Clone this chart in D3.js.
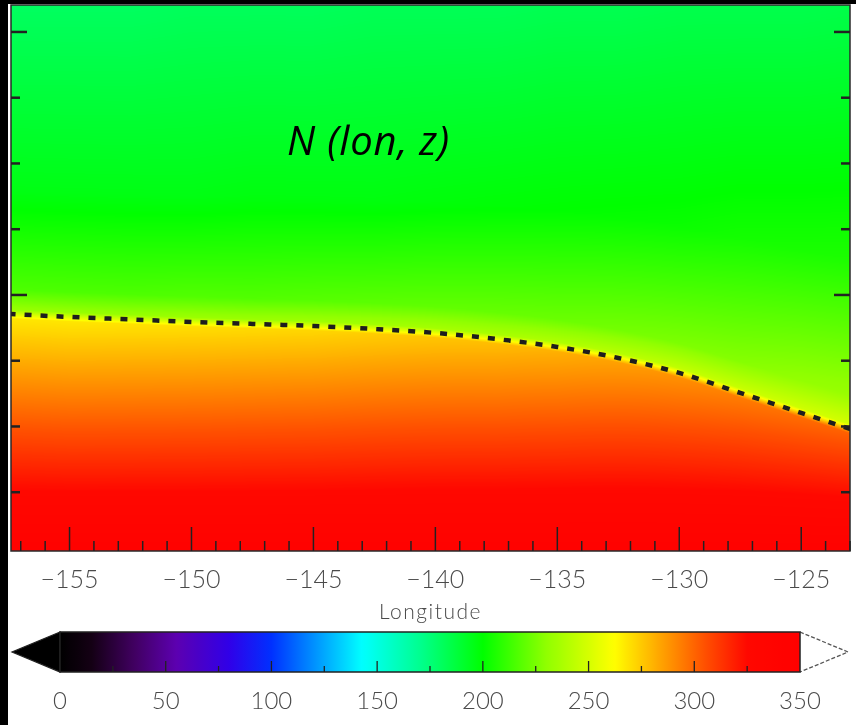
<!DOCTYPE html>
<html>
<head>
<meta charset="utf-8">
<script src="https://cdn.jsdelivr.net/npm/d3@7"></script>
<style>
  html, body { margin: 0; padding: 0; background: #fff; }
  #wrap { position: relative; width: 856px; height: 725px; overflow: hidden; }
  #wrap canvas, #wrap svg { position: absolute; left: 0; top: 0; }
</style>
</head>
<body>
<div id="wrap">
  <canvas id="field" width="856" height="725"></canvas>
  <svg id="chart" width="856" height="725"></svg>
</div>
<script>
// Longitudes (deg) at which the vertical N profiles are sampled
const lonSamples = [-157.5, -155, -152.5, -150, -147.5, -145, -142.5, -140, -137.5, -135, -132.5, -130, -127.5, -125, -122.5];
// Height (km) of the dashed N contour at each sampled longitude
const contourZ = [98.56, 98.33, 98.14, 97.95, 97.80, 97.64, 97.41, 97.11, 96.65, 96.05, 95.21, 94.07, 92.55, 91.03, 89.51];
// N at the top edge of the panel
const nTop = [180, 180, 180, 181, 181, 181, 182, 182, 182, 183, 183, 184, 184, 184, 185];
// N at 60% of the way from the top edge down to the contour
const nMid = [196, 196, 196, 196, 197, 197, 197, 198, 199, 200, 201, 202, 204, 205, 206];
// N at 92% of the way from the top edge down to the contour
const nNear = [216, 216, 216, 217, 217, 218, 219, 220, 221, 222, 224, 226, 228, 231, 233];
// N just above the contour
const nAbove = [232, 232, 232, 233, 233, 234, 235, 236, 237, 239, 241, 244, 246, 248, 250];
// N just below the contour
const nBelow = [268, 268, 269, 270, 271, 272, 274, 276, 278, 281, 285, 289, 294, 298, 302];
// N at the bottom edge of the panel
const nBottom = [345, 345, 345, 345, 345, 345, 345, 345, 345, 345, 345, 345, 345, 345, 345];

// Axis ticks
const lonMajor = [-155, -150, -145, -140, -135, -130, -125];
const lonMinor = d3.range(-157, -122, 1);
const zTicks = [85, 90, 95, 100, 105, 110, 115, 120];
const zMajor = [100, 120];
const cbarLabels = [0, 50, 100, 150, 200, 250, 300, 350];
const cbarTicks = [25, 50, 75, 100, 125, 150, 175, 200, 225, 250, 275, 300, 325];

// Colour table (value -> colour)
const cmapValues = [0, 15, 35, 55, 80, 100, 120, 143, 170, 200, 230, 262, 285, 305, 325, 350];
const cmapColors = ["#000000", "#140014", "#400060", "#5c00b0", "#3000e8", "#0030ff", "#0090ff", "#00ffff",
                    "#00ff90", "#00ff00", "#90ff00", "#ffff00", "#ffa000", "#ff5000", "#ff0800", "#ff0000"];

// ---------------------------------------------------------------------------
const W = 856, H = 725;
const plot = { left: 11, right: 850, top: 5, bottom: 551 };

const x = d3.scaleLinear().domain([-157.4, -123]).range([plot.left, plot.right]);
const y = d3.scaleLinear().domain([80.53, 122.05]).range([plot.bottom, plot.top]);
const color = d3.scaleLinear().domain(cmapValues).range(cmapColors)
  .interpolate(d3.interpolateRgb).clamp(true);

const svg = d3.select("#chart");
const defs = svg.append("defs");
defs.append("clipPath").attr("id", "plotClip")
  .append("rect").attr("x", plot.left).attr("y", plot.top)
  .attr("width", plot.right - plot.left).attr("height", plot.bottom - plot.top);

// Dashed contour, drawn as a smooth monotone curve through the samples
const contourPts = lonSamples.map((lon, i) => ({ lon, z: contourZ[i] }));
const contourLine = d3.line().x(d => x(d.lon)).y(d => y(d.z)).curve(d3.curveMonotoneX);
const contourPath = svg.append("path")
  .datum(contourPts)
  .attr("clip-path", "url(#plotClip)")
  .attr("d", contourLine)
  .attr("fill", "none")
  .attr("stroke", "#1e1e1e")
  .attr("stroke-width", 4.5)
  .attr("stroke-dasharray", "7 9");

// Contour height per pixel column, read back from the drawn curve
const pathNode = contourPath.node();
const totalLen = pathNode.getTotalLength();
const curveXs = [], curveYs = [];
for (let s = 0; s <= totalLen; s += 0.5) {
  const p = pathNode.getPointAtLength(s);
  if (!curveXs.length || p.x > curveXs[curveXs.length - 1]) { curveXs.push(p.x); curveYs.push(p.y); }
}
const contourYAt = d3.scaleLinear().domain(curveXs).range(curveYs).clamp(true);

// Column parameters as piecewise-linear functions of longitude
const byLon = arr => d3.scaleLinear().domain(lonSamples).range(arr).clamp(true);
const fTop = byLon(nTop), fMid = byLon(nMid), fNear = byLon(nNear),
      fAbove = byLon(nAbove), fBelow = byLon(nBelow), fBottom = byLon(nBottom);

// Colour lookup table in steps of 0.25
const lut = d3.range(0, 350.001, 0.25).map(v => d3.rgb(color(v)));

// ---- Field raster ----------------------------------------------------------
const ctx = document.getElementById("field").getContext("2d");
const pw = plot.right - plot.left, ph = plot.bottom - plot.top;
const img = ctx.createImageData(pw, ph);
const zTopEdge = y.domain()[1], zBotEdge = y.domain()[0];
const dz = 0.35;
for (let i = 0; i < pw; i++) {
  const px = plot.left + i + 0.5;
  const lon = x.invert(px);
  const zc = y.invert(contourYAt(px));
  const span = zTopEdge - zc;
  const prof = d3.scaleLinear()
    .domain([zTopEdge, zTopEdge - 0.6 * span, zTopEdge - 0.92 * span, zc + dz, zc - dz, zBotEdge])
    .range([fTop(lon), fMid(lon), fNear(lon), fAbove(lon), fBelow(lon), fBottom(lon)])
    .clamp(true);
  for (let j = 0; j < ph; j++) {
    const v = prof(y.invert(plot.top + j + 0.5));
    const c = lut[Math.max(0, Math.min(lut.length - 1, Math.round(v * 4)))];
    const k = (j * pw + i) * 4;
    img.data[k] = c.r; img.data[k + 1] = c.g; img.data[k + 2] = c.b; img.data[k + 3] = 255;
  }
}
ctx.putImageData(img, plot.left, plot.top);

// ---- Frame and axes --------------------------------------------------------
svg.append("rect")
  .attr("x", plot.left).attr("y", plot.top).attr("width", pw).attr("height", ph)
  .attr("fill", "none").attr("stroke", "#2a2a2a").attr("stroke-width", 1.5);

const tickColor = "#222";
svg.append("g").selectAll("line").data(lonMinor).join("line")
  .attr("x1", d => x(d)).attr("x2", d => x(d))
  .attr("y1", plot.bottom).attr("y2", d => plot.bottom - (lonMajor.includes(d) ? 24 : 10))
  .attr("stroke", tickColor).attr("stroke-width", 1.5);

const zTickG = svg.append("g");
zTickG.selectAll("line.l").data(zTicks).join("line").attr("class", "l")
  .attr("x1", plot.left).attr("x2", d => plot.left + (zMajor.includes(d) ? 16 : 9))
  .attr("y1", d => y(d)).attr("y2", d => y(d))
  .attr("stroke", tickColor).attr("stroke-width", 2.5);
zTickG.selectAll("line.r").data(zTicks).join("line").attr("class", "r")
  .attr("x1", plot.right).attr("x2", d => plot.right - (zMajor.includes(d) ? 16 : 9))
  .attr("y1", d => y(d)).attr("y2", d => y(d))
  .attr("stroke", tickColor).attr("stroke-width", 2.5);

const labelFont = "Lato, 'Open Sans', 'DejaVu Sans', sans-serif";
svg.append("g").selectAll("text").data(lonMajor).join("text")
  .attr("x", d => x(d)).attr("y", 588)
  .attr("text-anchor", "middle")
  .attr("font-family", labelFont).attr("font-weight", 300).attr("font-size", 25)
  .attr("fill", "#4a4a4a")
  .text(d => "\u2212" + Math.abs(d));

svg.append("text")
  .attr("x", (plot.left + plot.right) / 2).attr("y", 619)
  .attr("text-anchor", "middle")
  .attr("font-family", labelFont).attr("font-weight", 300).attr("font-size", 21)
  .attr("letter-spacing", 1.5)
  .attr("fill", "#4a4a4a")
  .text("Longitude");

// Panel title
svg.append("text")
  .attr("x", 287).attr("y", 155)
  .attr("font-family", "'Open Sans', Lato, sans-serif").attr("font-style", "italic")
  .attr("font-size", 40).attr("letter-spacing", 0.8).attr("fill", "#000")
  .text("N (lon, z)");

// ---- Colour bar ------------------------------------------------------------
const cb = { x0: 60, x1: 800, y0: 632, y1: 672, tipL: 12, tipR: 848 };
const cx = d3.scaleLinear().domain([0, 350]).range([cb.x0, cb.x1]);
const grad = defs.append("linearGradient").attr("id", "cbarGrad")
  .attr("x1", "0%").attr("x2", "100%").attr("y1", "0%").attr("y2", "0%");
grad.selectAll("stop").data(d3.range(0, 350.001, 2.5)).join("stop")
  .attr("offset", d => (d / 350 * 100) + "%")
  .attr("stop-color", d => color(d));

const cbMid = (cb.y0 + cb.y1) / 2;
svg.append("path")
  .attr("d", `M${cb.x0},${cb.y0}L${cb.tipL},${cbMid}L${cb.x0},${cb.y1}Z`)
  .attr("fill", color(0)).attr("stroke", "#222").attr("stroke-width", 1.2);
svg.append("path")
  .attr("d", `M${cb.x1},${cb.y0}L${cb.tipR},${cbMid}L${cb.x1},${cb.y1}`)
  .attr("fill", "#fff").attr("stroke", "#555").attr("stroke-width", 1.3)
  .attr("stroke-dasharray", "4 2");
svg.append("rect")
  .attr("x", cb.x0).attr("y", cb.y0).attr("width", cb.x1 - cb.x0).attr("height", cb.y1 - cb.y0)
  .attr("fill", "url(#cbarGrad)").attr("stroke", "#222").attr("stroke-width", 1.5);

svg.append("g").selectAll("line").data(cbarTicks).join("line")
  .attr("x1", d => cx(d)).attr("x2", d => cx(d))
  .attr("y1", cb.y1).attr("y2", d => cb.y1 - (d % 50 === 0 ? 11 : 6))
  .attr("stroke", "#222").attr("stroke-width", 1.3);

svg.append("g").selectAll("text").data(cbarLabels).join("text")
  .attr("x", d => cx(d)).attr("y", 709)
  .attr("text-anchor", "middle")
  .attr("font-family", labelFont).attr("font-weight", 300).attr("font-size", 24)
  .attr("fill", "#4a4a4a")
  .text(d => d);

// ---- Outer black margins -------------------------------------------------
svg.append("rect").attr("x", 0).attr("y", 0).attr("width", 8).attr("height", H).attr("fill", "#000");
svg.append("rect").attr("x", 0).attr("y", 0).attr("width", W).attr("height", 4).attr("fill", "#000");
</script>
</body>
</html>
